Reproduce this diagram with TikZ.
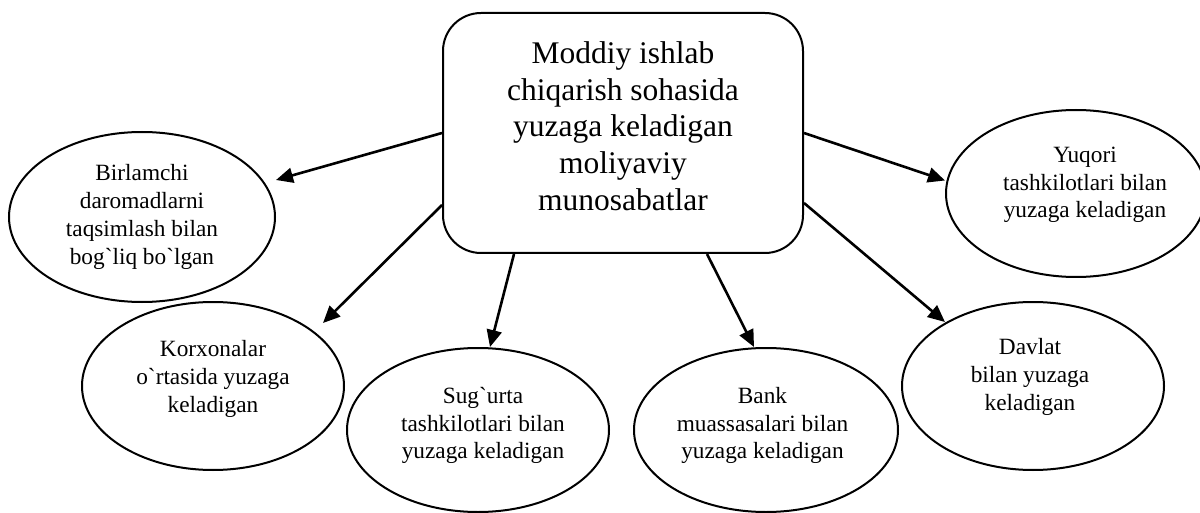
\documentclass[tikz,border=0pt]{standalone}
\usepackage{fontspec}
\setmainfont{Liberation Serif}
\usetikzlibrary{shapes.geometric,arrows.meta}
\begin{document}
\begin{tikzpicture}[x=1pt,y=-1pt,
  mainbox/.style={draw, line width=2pt, rounded corners=38pt, minimum width=360pt, minimum height=240pt, inner sep=0pt, align=center, text depth=14pt, font=\fontsize{31.5}{36.7}\selectfont},
  oval/.style={draw, ellipse, line width=2pt, inner sep=0pt},
  ovaltext/.style={align=center, inner sep=0pt, font=\fontsize{23.3}{27.8}\selectfont},
  link/.style={line width=2.6pt, -{Triangle[length=17pt,width=15pt]}}
]
\clip (0,0) rectangle (1200,513);
\fill[white] (0,0) rectangle (1200,513);

\node[mainbox] (box) at (623,133) {Moddiy ishlab\\chiqarish sohasida\\yuzaga keladigan\\moliyaviy\\munosabatlar};

\node[oval, minimum width=266pt, minimum height=170pt,
  label={[ovaltext]center:{Birlamchi\\daromadlarni\\taqsimlash bilan\\bog\textasciigrave{}liq bo\textasciigrave{}lgan}}] (e1) at (142,217) {};
\node[oval, minimum width=262pt, minimum height=168pt,
  label={[ovaltext, yshift=7pt]center:{Korxonalar\\o\textasciigrave{}rtasida yuzaga\\keladigan}}] (e2) at (213,386) {};
\node[oval, minimum width=262pt, minimum height=164pt,
  label={[ovaltext, xshift=5pt, yshift=4.5pt]center:{Sug\textasciigrave{}urta\\tashkilotlari bilan\\yuzaga keladigan}}] (e3) at (478,430) {};
\node[oval, minimum width=264pt, minimum height=164pt,
  label={[ovaltext, xshift=-3.5pt, yshift=4.5pt]center:{Bank\\muassasalari bilan\\yuzaga keladigan}}] (e4) at (766,430) {};
\node[oval, minimum width=262pt, minimum height=168pt,
  label={[ovaltext, xshift=-3pt, yshift=9pt]center:{Davlat\\bilan yuzaga\\keladigan}}] (e5) at (1033,386) {};
\node[oval, minimum width=260pt, minimum height=167pt,
  label={[ovaltext, xshift=9pt, yshift=8.5pt]center:{Yuqori\\tashkilotlari bilan\\yuzaga keladigan}}] (e6) at (1076,193.5) {};

\draw[link] (box.west) -- ([yshift=37pt]e1.east);
\draw[link] ([yshift=-72pt]box.west) -- ([shift={(110,-63)}]e2.center);
\draw[link] ([xshift=-109pt]box.south) -- ([xshift=12pt]e3.north);
\draw[link] ([xshift=84pt]box.south) -- ([xshift=-12pt]e4.north);
\draw[link] ([yshift=-70pt]box.east) -- ([shift={(-88,-64)}]e5.center);
\draw[link] (box.east) -- ([yshift=13pt]e6.west);
\end{tikzpicture}
\end{document}
